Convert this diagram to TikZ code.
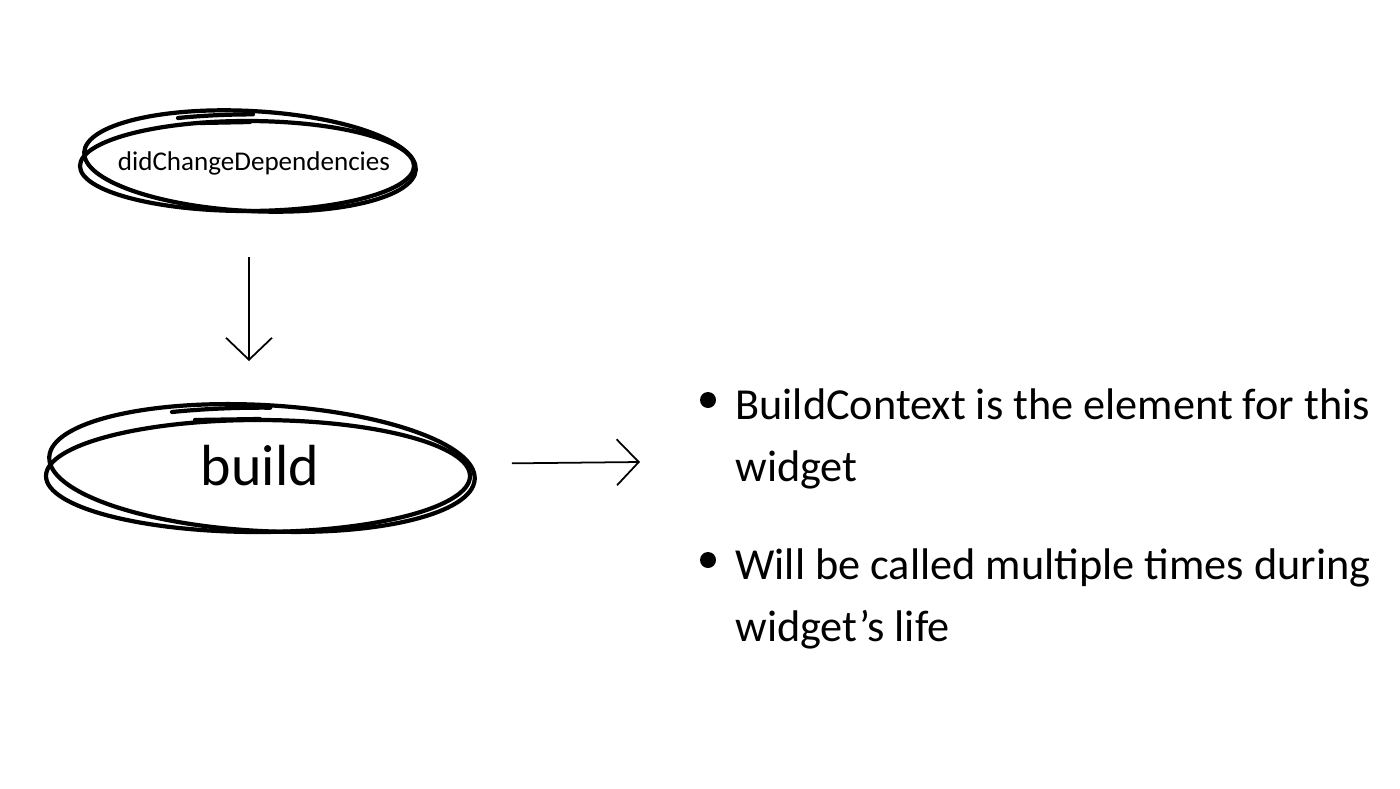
\documentclass[tikz,border=0pt]{standalone}
\usepackage{fontspec}
\setmainfont{Carlito}
\usetikzlibrary{arrows.meta}

\begin{document}
\begin{tikzpicture}[
    pen/.style={line width=1.2pt, line cap=round},
    arrow/.style={line width=0.5pt, -{Straight Barb[length=2.2mm, width=4.6mm]}},
    note/.style={anchor=north west, align=left, font=\fontsize{12.6}{17.6}\selectfont},
    dot/.style={circle, fill, inner sep=0pt, minimum size=0.16cm}]
            \useasboundingbox (0,0) rectangle (14,-7.88);
            \node[font=\fontsize{7.7}{10}\selectfont] (dcd) at (2.54,-1.63) {didChangeDependencies};
            \draw[pen] (2.47,-1.66) ellipse (1.67 and 0.45);
            \draw[pen, rotate around={-3:(2.50,-1.61)}] (2.50,-1.61) ellipse (1.66 and 0.50);
            \draw[pen] (1.78,-1.18) arc[start angle=112, end angle=90, x radius=2.0, y radius=0.5];
            \draw[pen] (2.0,-1.23) -- (2.5,-1.22);
            \node[font=\fontsize{16.5}{20}\selectfont] (build) at (2.60,-4.66) {build};
            \draw[pen] (2.58,-4.76) ellipse (2.12 and 0.56);
            \draw[pen, rotate around={-3:(2.62,-4.68)}] (2.62,-4.68) ellipse (2.13 and 0.63);
            \draw[pen] (1.72,-4.12) arc[start angle=112, end angle=88, x radius=2.4, y radius=0.6];
            \draw[pen] (1.95,-4.20) -- (2.60,-4.19);
            \draw[arrow, shorten <=0.94cm, shorten >=1.05cm] ([xshift=-0.05cm]dcd.center) -- ([xshift=-0.05cm]dcd.center |- build.center);
            \coordinate (ctxin) at (6.4,-4.62);
            \draw[arrow, shorten <=2.52cm] (build.center) -- (ctxin);
            \node[dot] (dot1) at (7.08,-4.0) {};
            \node[note] (ctx) at (7.23,-3.76) {BuildContext is the element for this\\widget};
            \node[dot] (dot2) at (7.08,-5.6) {};
            \node[note] (calls) at (7.23,-5.36) {Will be called multiple times during\\widget’s life};
        \end{tikzpicture}
\end{document}
